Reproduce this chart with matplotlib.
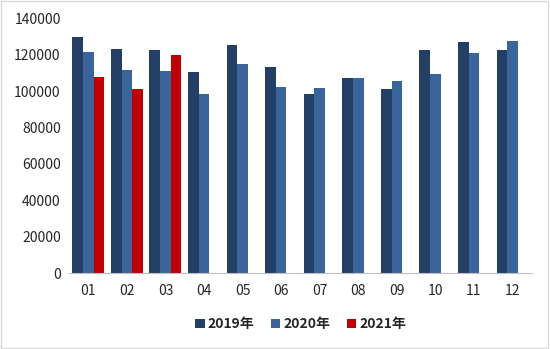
import numpy as np
import matplotlib
matplotlib.use("Agg")
import matplotlib.pyplot as plt
from matplotlib.patches import Rectangle

plt.rcParams['font.family'] = ['Noto Sans CJK SC', 'DejaVu Sans']

# 月度数据
mois = ['01', '02', '03', '04', '05', '06', '07', '08', '09', '10', '11', '12']
v2019 = [129500, 123200, 122400, 110700, 125300, 113400, 98300, 107200, 101200, 122400, 127200, 122400]
v2020 = [121700, 111400, 111100, 98300, 114900, 102100, 101600, 107200, 105400, 109300, 120800, 127500]
v2021 = [107600, 101400, 120000]

couleurs = {'2019年': '#243F66', '2020年': '#3A659C', '2021年': '#C00000'}

fig = plt.figure(figsize=(5.5, 3.49), dpi=100)
ax = fig.add_axes([0.1255, 0.217, 0.8415, 0.7306])

x = np.arange(len(mois))
largeur = 0.277
ax.bar(x - largeur, v2019, largeur, color=couleurs['2019年'], label='2019年')
ax.bar(x, v2020, largeur, color=couleurs['2020年'], label='2020年')
ax.bar(x[:len(v2021)] + largeur, v2021, largeur, color=couleurs['2021年'], label='2021年')

ax.set_xlim(-0.5, len(mois) - 0.5)
ax.set_ylim(0, 140000)
ax.set_yticks(np.arange(0, 140001, 20000))
ax.set_xticks(x + largeur / 2 - largeur / 2)
ax.set_xticklabels(mois)

for s in ['top', 'right', 'left']:
    ax.spines[s].set_visible(False)
ax.spines['bottom'].set_color('#BFBFBF')
ax.tick_params(axis='both', length=0, labelsize=10, colors='#262626')
ax.tick_params(axis='x', pad=8)
ax.tick_params(axis='y', pad=6)

leg = ax.legend(loc='center', bbox_to_anchor=(0.5, -0.2), ncol=3, frameon=False,
                prop={'weight': 'bold', 'size': 10}, handlelength=0.7, handleheight=0.7,
                handletextpad=0.2, columnspacing=1.2)
for t in leg.get_texts():
    t.set_color('#262626')

# cadre de la figure
fig.patches.append(Rectangle((0.002, 0.003), 0.995, 0.993, transform=fig.transFigure,
                             fill=False, edgecolor='#D9D9D9', linewidth=1))

fig.savefig('out.png', dpi=100)
